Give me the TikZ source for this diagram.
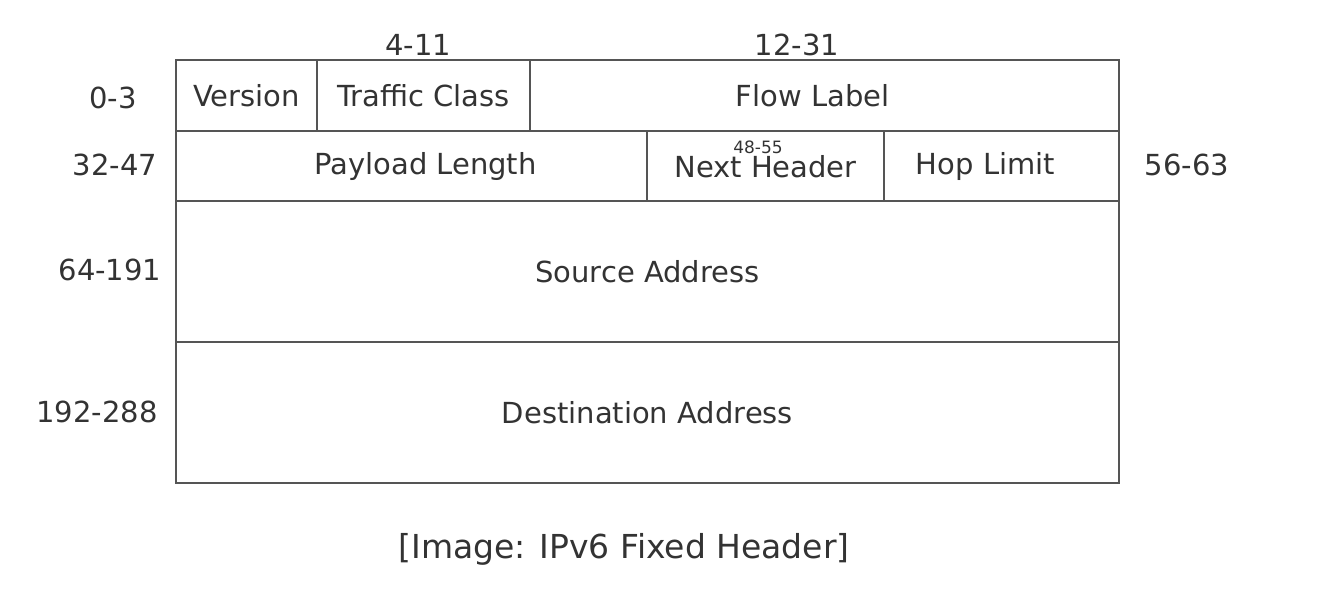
\documentclass[tikz,border=0pt]{standalone}
\usepackage{fontspec}
\setmainfont{DejaVu Sans}
\usepackage{xcolor}
\usetikzlibrary{positioning}

\definecolor{inkgray}{HTML}{333333}
\definecolor{rulegray}{HTML}{555555}

\begin{document}
\begin{tikzpicture}[
  x=1pt, y=-1pt,
  field/.style={draw=rulegray, line width=2pt, inner sep=0pt, outer sep=0pt, text=inkgray,
    font=\fontsize{29}{34}\selectfont},
  bits/.style={inner sep=0pt, text=inkgray, font=\fontsize{29}{34}\selectfont},
  tiny/.style={inner sep=0pt, text=inkgray, font=\fontsize{17}{19}\selectfont}
]
\useasboundingbox (0,0) rectangle (1326,598);
% first row
\node[field, minimum width=141pt, minimum height=71pt] (ver) at (246.5,95.5) {Version};
\node[field, minimum width=213pt, minimum height=71pt] (tc) at (423.5,95.5) {Traffic Class};
\node[field, minimum width=589pt, minimum height=71pt] (flow) at (824.5,95.5) {Flow Label\hspace*{24pt}};
% second row
\node[field, minimum width=471pt, minimum height=70pt] (plen) at (411.5,166) {\hspace*{28pt}Payload Length};
\node[field, minimum width=237pt, minimum height=70pt, text depth=-11pt] (nh) at (765.5,166) {Next Header};
\node[field, minimum width=235pt, minimum height=70pt] (hop) at (1001.5,166) {Hop Limit\hspace*{32pt}};
% addresses
\node[field, minimum width=943pt, minimum height=141pt] (src) at (647.5,271.5) {Source Address};
\node[field, minimum width=943pt, minimum height=141pt, text depth=-10pt] (dst) at (647.5,412.5) {Destination Address};
% bit ranges
\node[bits] (b0) at (113,98) {0-3};
\node[bits] (b4) at (418,45) {4-11};
\node[bits] (b12) at (797,45) {12-31};
\node[bits] (b32) at (115,165) {32-47};
\node[tiny] (b48) at (758,147) {48-55};
\node[bits] (b56) at (1187,165) {56-63};
\node[bits] (b64) at (110,270) {64-191};
\node[bits] (b192) at (97,412) {192-288};
% caption
\node[inner sep=0pt, text=inkgray, font=\fontsize{33}{38}\selectfont] (cap) at (624,549) {[Image: IPv6 Fixed Header]};
\end{tikzpicture}
\end{document}
